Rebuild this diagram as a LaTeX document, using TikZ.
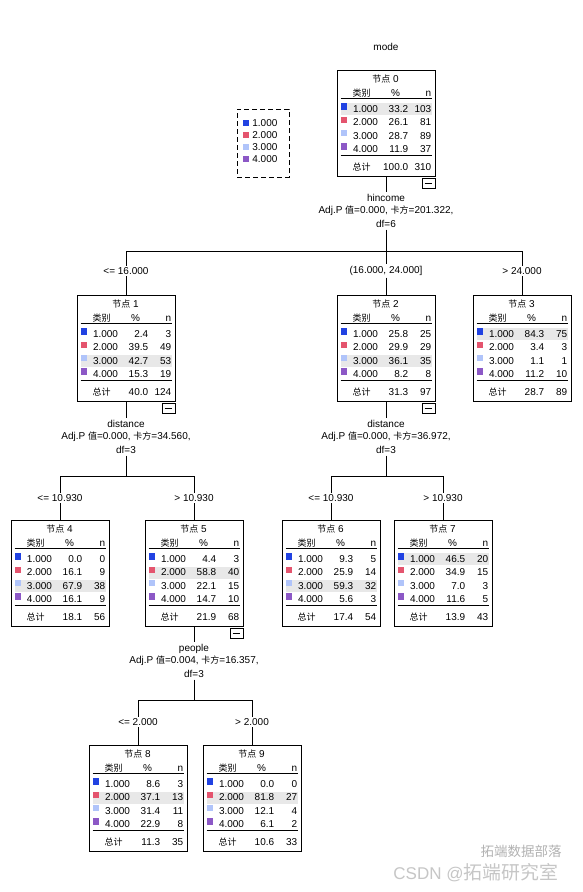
\documentclass[tikz,border=0pt]{standalone}
\usepackage{fontspec}
\setmainfont{Liberation Sans}
\newfontfamily\cjk[Scale=0.9]{Noto Sans CJK SC}

\definecolor{cat1}{RGB}{33,66,226}
\definecolor{cat2}{RGB}{228,84,110}
\definecolor{cat3}{RGB}{176,196,250}
\definecolor{cat4}{RGB}{140,88,198}
\definecolor{hlgray}{RGB}{232,232,232}

\tikzset{
  treebox/.style={draw, minimum width=98pt, minimum height=106pt, inner sep=0pt},
  cell/.style={inner sep=0pt},
  split/.style={align=center, inner sep=1.5pt},
  branch/.style={inner sep=1.5pt},
  minusbox/.style={draw, minimum width=13pt, minimum height=10pt, inner sep=0pt, anchor=north east},
}

% #1 name, #2 centre, #3 number, #4 shaded row, #5 rows %/n, #6 total %, #7 total n
\newcommand{\treenode}[7]{%
  \node[treebox] (#1) at #2 {};
  \begin{scope}[shift={(#1.north west)}]
    \fill[hlgray] (4,{20.1+13.4*#4}) rectangle (95,{32.1+13.4*#4});
    \node[cell, anchor=base] (#1-t) at (49,12.5) {{\cjk 节点} #3};
    \node[cell, anchor=base] (#1-h1) at (25,26.5) {\cjk 类别};
    \node[cell, anchor=base] (#1-h2) at (59,26.5) {\%};
    \node[cell, anchor=base east] (#1-h3) at (95,26.5) {n};
    \draw (4,29) -- (95,29) (4,86) -- (95,86);
    \foreach \p/\c [count=\i] in {#5}{
      \fill[cat\i] (4,{20.1+13.4*\i}) rectangle (10.5,{26.6+13.4*\i});
      \node[cell, anchor=base west] (#1-k\i) at (16,{29.2+13.4*\i}) {\i.000};
      \node[cell, anchor=base east] (#1-p\i) at (72,{29.2+13.4*\i}) {\p};
      \node[cell, anchor=base east] (#1-n\i) at (95,{29.2+13.4*\i}) {\c};
    }
    \node[cell, anchor=base] (#1-s) at (25,100.6) {\cjk 总计};
    \node[cell, anchor=base east] (#1-sp) at (72,100.6) {#6};
    \node[cell, anchor=base east] (#1-sn) at (95,100.6) {#7};
  \end{scope}
}

% collapse box under an expanded node
\newcommand{\collapse}[2]{%
  \node[minusbox] (#1) at ([yshift=-2pt]#2.south east) {};
  \draw ([xshift=3pt]#1.west) -- ([xshift=-3pt]#1.east);
}

\begin{document}
\begin{tikzpicture}[x=1pt, y=-1pt, line width=0.8pt, font=\fontsize{10}{12}\selectfont]
\useasboundingbox[fill=white] (0,0) rectangle (582,892);

\node (root) at (386,47) {mode};

% legend
\node[draw, dash pattern=on 5pt off 3pt, minimum width=52pt, minimum height=68pt] (legend) at (263,143) {};
\foreach \i in {1,...,4}{
  \fill[cat\i] (243,{108+12*\i}) rectangle (249,{114+12*\i});
  \node[cell, anchor=base west] (lg\i) at (252,{114.6+12*\i}) {\i.000};
}

% nodes
\treenode{n0}{(386,123)}{0}{1}{33.2/103,26.1/81,28.7/89,11.9/37}{100.0}{310}
\treenode{n1}{(126,348)}{1}{3}{2.4/3,39.5/49,42.7/53,15.3/19}{40.0}{124}
\treenode{n2}{(386,348)}{2}{3}{25.8/25,29.9/29,36.1/35,8.2/8}{31.3}{97}
\treenode{n3}{(522,348)}{3}{1}{84.3/75,3.4/3,1.1/1,11.2/10}{28.7}{89}
\treenode{n4}{(60,573)}{4}{3}{0.0/0,16.1/9,67.9/38,16.1/9}{18.1}{56}
\treenode{n5}{(194,573)}{5}{2}{4.4/3,58.8/40,22.1/15,14.7/10}{21.9}{68}
\treenode{n6}{(331,573)}{6}{3}{9.3/5,25.9/14,59.3/32,5.6/3}{17.4}{54}
\treenode{n7}{(443,573)}{7}{1}{46.5/20,34.9/15,7.0/3,11.6/5}{13.9}{43}
\treenode{n8}{(138,798)}{8}{2}{8.6/3,37.1/13,31.4/11,22.9/8}{11.3}{35}
\treenode{n9}{(252,798)}{9}{2}{0.0/0,81.8/27,12.1/4,6.1/2}{10.6}{33}

\collapse{m0}{n0}
\collapse{m1}{n1}
\collapse{m2}{n2}
\collapse{m5}{n5}

% splits
\node[split] (s0) at (386,211) {hincome\\Adj.P {\cjk 值}=0.000, {\cjk 卡方}=201.322,\\[2pt]df=6};
\node[split] (s1) at (126,437) {distance\\Adj.P {\cjk 值}=0.000, {\cjk 卡方}=34.560,\\[2pt]df=3};
\node[split] (s2) at (386,437) {distance\\Adj.P {\cjk 值}=0.000, {\cjk 卡方}=36.972,\\[2pt]df=3};
\node[split] (s5) at (194,661) {people\\Adj.P {\cjk 值}=0.004, {\cjk 卡方}=16.357,\\[2pt]df=3};

\coordinate (j0) at (386,251);
\coordinate (j1) at (126,476);
\coordinate (j2) at (386,476);
\coordinate (j5) at (194,700);

% branch labels
\node[branch] (b1) at (126,271) {<= 16.000};
\node[branch] (b2) at (386,271) {(16.000, 24.000]};
\node[branch] (b3) at (522,271) {> 24.000};
\node[branch] (b4) at (60,498) {<= 10.930};
\node[branch] (b5) at (194,498) {> 10.930};
\node[branch] (b6) at (331,498) {<= 10.930};
\node[branch] (b7) at (443,498) {> 10.930};
\node[branch] (b8) at (138,722) {<= 2.000};
\node[branch] (b9) at (252,722) {> 2.000};

% connectors
\foreach \p/\s/\j/\l/\r in {n0/s0/j0/b1/b3, n1/s1/j1/b4/b5, n2/s2/j2/b6/b7, n5/s5/j5/b8/b9}{
  \draw (\p.south) -- (\s.north);
  \draw (\s.south) -- (\j);
  \draw (\j -| \l) -- (\j -| \r);
}
\foreach \b/\j/\c in {b1/j0/n1, b2/j0/n2, b3/j0/n3, b4/j1/n4, b5/j1/n5, b6/j2/n6, b7/j2/n7, b8/j5/n8, b9/j5/n9}{
  \draw (\j -| \b) -- (\b.north);
  \draw (\b.south) -- (\c.north);
}

% watermark
\node[text=gray!45, inner sep=0pt, anchor=base west, font=\fontsize{17}{17}\selectfont] (wm) at (393,879) {CSDN @{\fontsize{21}{21}\selectfont\cjk 拓端研究室}};
\node[text=gray!60, inner sep=0pt, font=\fontsize{15}{15}\selectfont] (wm2) at (521,851) {\cjk 拓端数据部落};

\end{tikzpicture}
\end{document}
